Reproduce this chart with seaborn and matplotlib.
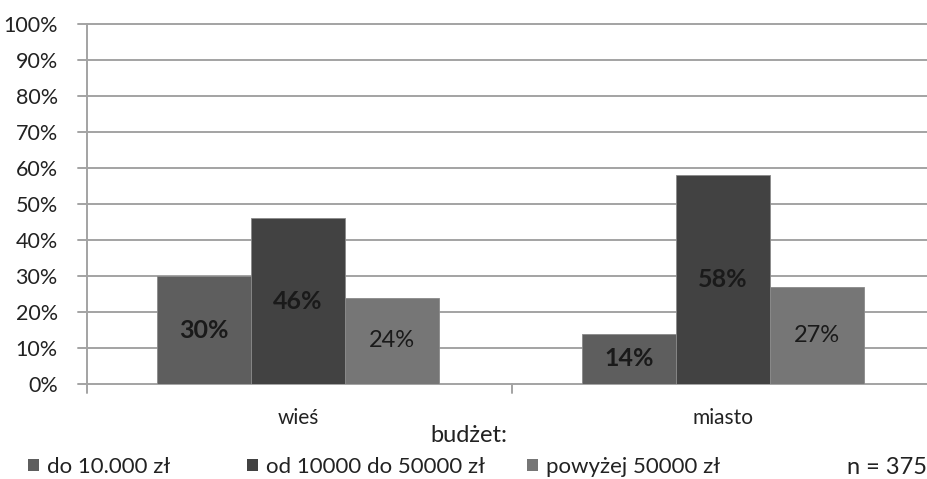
import matplotlib
matplotlib.use("Agg")
import matplotlib.pyplot as plt
from matplotlib.patches import Patch
import pandas as pd
import seaborn as sns

# Data
places = ["wieś", "miasto"]
budgets = ["do 10.000 zł", "od 10000 do 50000 zł", "powyżej 50000 zł"]
values_wies = [30, 46, 24]
values_miasto = [14, 58, 27]
y_ticks = [0, 10, 20, 30, 40, 50, 60, 70, 80, 90, 100]
sample_note = "n = 375"
axis_title = "budżet:"

colors = ["#5e5e5e", "#424242", "#767676"]
bold_labels = [True, True, False]

rows = []
for place, vals in zip(places, [values_wies, values_miasto]):
    for b, v in zip(budgets, vals):
        rows.append({"miejsce": place, "budżet": b, "procent": v})
df = pd.DataFrame(rows)

sns.set_theme(style="white")
plt.rcParams["font.family"] = ["Lato", "DejaVu Sans"]
TXT = "#222222"

W, H = 928, 479
fig = plt.figure(figsize=(W / 100, H / 100), dpi=100)
ax = fig.add_axes([87 / W, (H - 384) / H, (W - 87) / W, (384 - 24) / H])

sns.barplot(data=df, x="miejsce", y="procent", hue="budżet", order=places,
            hue_order=budgets, palette=colors, width=0.664, ax=ax,
            legend=False, saturation=1, edgecolor="#8a8a8a", linewidth=0.6)

x0, x1 = -0.4965, 1.482
ax.set_xlim(x0, x1)
ax.set_ylim(0, 100)
ax.set_yticks(y_ticks)
ax.set_yticklabels([f"{t}%" for t in y_ticks], fontsize=15.5, color=TXT)
ax.set_xticks([0, 1])
ax.set_xticklabels(places, fontsize=15, color=TXT)
ax.tick_params(axis="x", length=0, pad=17)
ax.tick_params(axis="y", length=0, pad=21)
ax.set_xlabel("")
ax.set_ylabel("")

# Horizontal gridlines with short stubs left of the axis
grid_c = "#a3a3a3"
for t in y_ticks:
    ax.axhline(t, color=grid_c, linewidth=1.4, zorder=0.5, clip_on=False)
    ax.plot([x0 - 9 / 425, x0], [t, t], color=grid_c, lw=1.4,
            clip_on=False, zorder=0.5)
for sp in ["top", "right", "bottom"]:
    ax.spines[sp].set_visible(False)
ax.spines["left"].set_color(grid_c)
ax.spines["left"].set_linewidth(1.4)
# category boundary ticks below the baseline
for xv in [x0, x0 + 1]:
    ax.plot([xv, xv], [0, -2.5], color=grid_c, lw=1.4, clip_on=False)

# Value labels inside the bars
for container, bold in zip(ax.containers, bold_labels):
    labels = [f"{int(v)}%" for v in container.datavalues]
    ax.bar_label(container, labels=labels, label_type="center",
                 fontsize=18 if bold else 17,
                 fontweight="bold" if bold else "normal", color="#1a1a1a")

fig.text(469 / W, 1 - 435 / H, axis_title, ha="center", va="center",
         fontsize=17, color=TXT)
fig.text(927 / W, 1 - 467 / H, sample_note, ha="right", va="center",
         fontsize=17, color=TXT)

# Legend entries placed along the bottom edge
legend_x = [28, 247, 527]
for label, c, lx in zip(budgets, colors, legend_x):
    leg = fig.legend([Patch(facecolor=c, edgecolor="none")], [label],
                     loc="center left", bbox_to_anchor=(lx / W, 1 - 467 / H),
                     frameon=False, fontsize=16, handlelength=0.5,
                     handleheight=0.5, handletextpad=0.36, borderpad=0,
                     borderaxespad=0, labelcolor=TXT)

fig.savefig("out.png", dpi=100)
